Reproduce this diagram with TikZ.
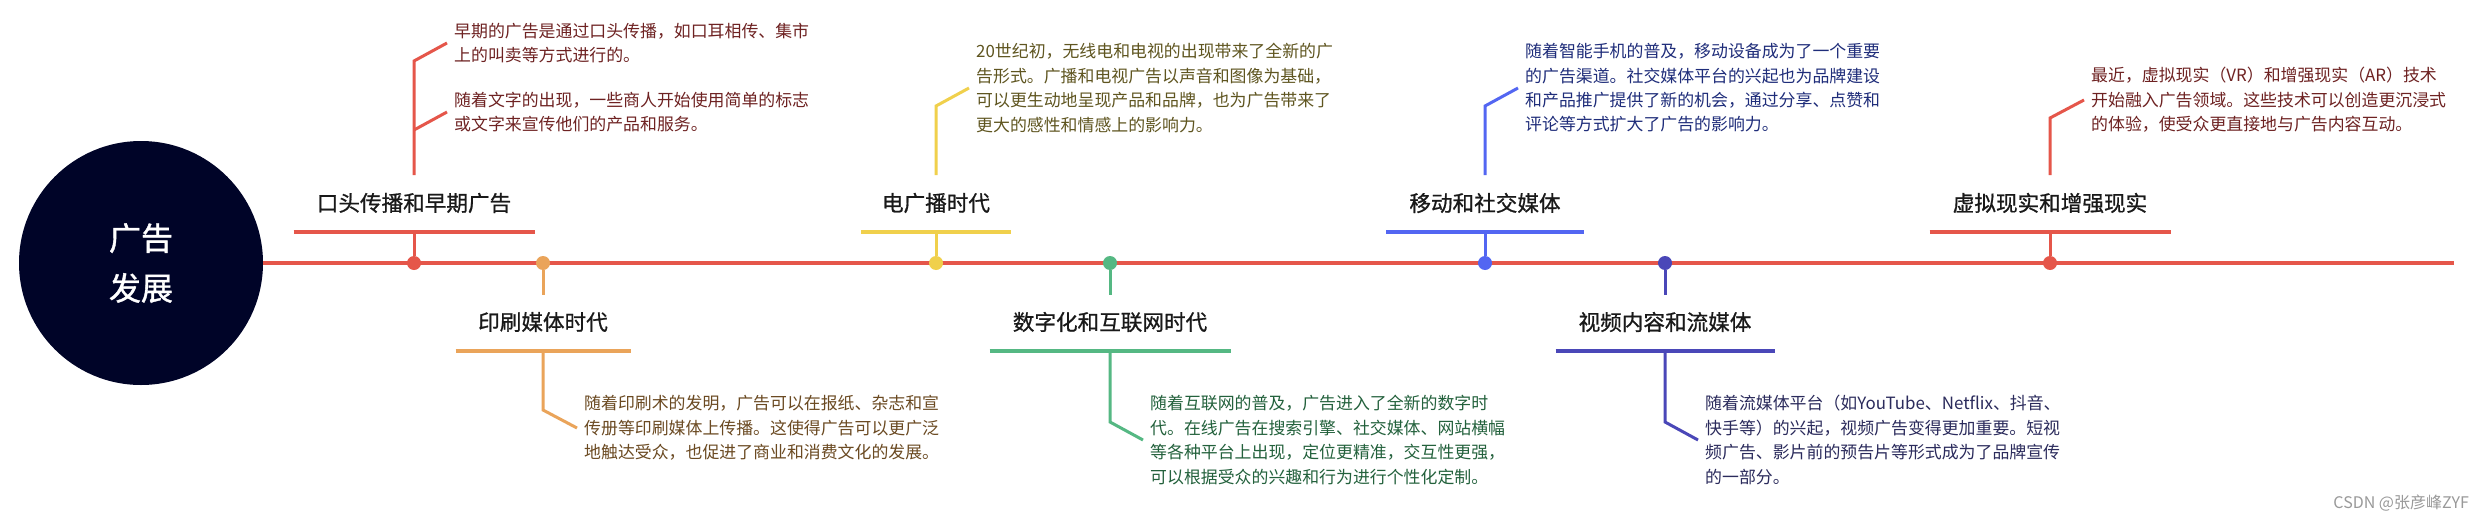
\documentclass[tikz,border=0pt]{standalone}
\usepackage{fontspec}
\setmainfont{Noto Sans CJK SC}
\newfontfamily\bodyfont{Noto Sans CJK SC}
\newfontfamily\ttlfont[FakeBold=0.8]{Noto Sans CJK SC}
\newfontfamily\hubfont[FakeBold=1.2]{Noto Sans CJK SC}
\definecolor{cRed}{HTML}{E5564A}
\definecolor{cOrange}{HTML}{EAA45A}
\definecolor{cYellow}{HTML}{F0D04C}
\definecolor{cGreen}{HTML}{55B883}
\definecolor{cBlue}{HTML}{5366F2}
\definecolor{cIndigo}{HTML}{4A47B8}
\definecolor{tRed}{HTML}{6E2222}
\definecolor{tOrange}{HTML}{6B4A22}
\definecolor{tYellow}{HTML}{5F5520}
\definecolor{tGreen}{HTML}{23613C}
\definecolor{tBlue}{HTML}{1F2D7A}
\definecolor{tIndigo}{HTML}{2B2B5C}
\definecolor{hub}{HTML}{000428}
\tikzset{
  dotnode/.style={circle, fill=#1, inner sep=0pt, minimum size=14pt},
  ttl/.style={font=\ttlfont\fontsize{21.6}{26}\selectfont, inner sep=0pt, text=black!90},
  para/.style={font=\bodyfont\fontsize{16.9}{24.4}\selectfont, align=left, anchor=west, inner sep=0pt, text=#1},
  conn/.style={draw=#1, line width=3pt},
  bar/.style={draw=#1, line width=3.5pt},
}
\begin{document}
\begin{tikzpicture}[x=1pt,y=-1pt]
\useasboundingbox[fill=white] (0,0) rectangle (2486,522);

% hub and timeline
\node[circle, fill=hub, minimum size=244pt, inner sep=0pt, align=center, text=white,
      font=\hubfont\fontsize{32}{50}\selectfont] (hub) at (141,263) {广告\\发展};
\coordinate (tend) at (2454,263);
\draw[bar=cRed] (hub.east) -- (tend);

% ---------- M1 (above) ----------
\node[dotnode=cRed] (d1) at (414,263) {};
\coordinate (u1) at (414,232);
\draw[bar=cRed] ([xshift=-120.5pt]u1) -- ([xshift=120.5pt]u1);
\draw[conn=cRed] (d1) -- (u1);
\node[ttl] (t1) at (414,203) {口头传播和早期广告};
\node[para=tRed] (p1a) at (454,43) {早期的广告是通过口头传播，如口耳相传、集市\\上的叫卖等方式进行的。};
\node[para=tRed] (p1b) at (454,112) {随着文字的出现，一些商人开始使用简单的标志\\或文字来宣传他们的产品和服务。};
\coordinate (s1) at (414,175);
\coordinate (b1a) at (414,61);
\coordinate (b1b) at (414,130);
\draw[conn=cRed] (s1) -- (b1a) -- ([xshift=-7pt]p1a.west);
\draw[conn=cRed] (b1b) -- ([xshift=-7pt]p1b.west);

% ---------- M2 (below) ----------
\node[dotnode=cOrange] (d2) at (543,263) {};
\coordinate (s2) at (543,295);
\draw[conn=cOrange] (d2) -- (s2);
\node[ttl] (t2) at (543,322) {印刷媒体时代};
\coordinate (u2) at (543,351);
\draw[bar=cOrange] ([xshift=-87.5pt]u2) -- ([xshift=87.5pt]u2);
\node[para=tOrange] (p2) at (584,428) {随着印刷术的发明，广告可以在报纸、杂志和宣\\传册等印刷媒体上传播。这使得广告可以更广泛\\地触达受众，也促进了商业和消费文化的发展。};
\coordinate (b2) at (543,410);
\draw[conn=cOrange] (u2) -- (b2) -- ([xshift=-7pt]p2.west);

% ---------- M3 (above) ----------
\node[dotnode=cYellow] (d3) at (936,263) {};
\coordinate (u3) at (936,232);
\draw[bar=cYellow] ([xshift=-75pt]u3) -- ([xshift=75pt]u3);
\draw[conn=cYellow] (d3) -- (u3);
\node[ttl] (t3) at (936,203) {电广播时代};
\node[para=tYellow] (p3) at (976,88) {20世纪初，无线电和电视的出现带来了全新的广\\告形式。广播和电视广告以声音和图像为基础，\\可以更生动地呈现产品和品牌，也为广告带来了\\更大的感性和情感上的影响力。};
\coordinate (s3) at (936,175);
\coordinate (b3) at (936,106);
\draw[conn=cYellow] (s3) -- (b3) -- ([xshift=-7pt]p3.west);

% ---------- M4 (below) ----------
\node[dotnode=cGreen] (d4) at (1110,263) {};
\coordinate (s4) at (1110,295);
\draw[conn=cGreen] (d4) -- (s4);
\node[ttl] (t4) at (1110,322) {数字化和互联网时代};
\coordinate (u4) at (1110,351);
\draw[bar=cGreen] ([xshift=-120.5pt]u4) -- ([xshift=120.5pt]u4);
\node[para=tGreen] (p4) at (1150,440) {随着互联网的普及，广告进入了全新的数字时\\代。在线广告在搜索引擎、社交媒体、网站横幅\\等各种平台上出现，定位更精准，交互性更强，\\可以根据受众的兴趣和行为进行个性化定制。};
\coordinate (b4) at (1110,422);
\draw[conn=cGreen] (u4) -- (b4) -- ([xshift=-7pt]p4.west);

% ---------- M5 (above) ----------
\node[dotnode=cBlue] (d5) at (1485,263) {};
\coordinate (u5) at (1485,232);
\draw[bar=cBlue] ([xshift=-99pt]u5) -- ([xshift=99pt]u5);
\draw[conn=cBlue] (d5) -- (u5);
\node[ttl] (t5) at (1485,203) {移动和社交媒体};
\node[para=tBlue] (p5) at (1525,88) {随着智能手机的普及，移动设备成为了一个重要\\的广告渠道。社交媒体平台的兴起也为品牌建设\\和产品推广提供了新的机会，通过分享、点赞和\\评论等方式扩大了广告的影响力。};
\coordinate (s5) at (1485,175);
\coordinate (b5) at (1485,106);
\draw[conn=cBlue] (s5) -- (b5) -- ([xshift=-7pt]p5.west);

% ---------- M6 (below) ----------
\node[dotnode=cIndigo] (d6) at (1665,263) {};
\coordinate (s6) at (1665,295);
\draw[conn=cIndigo] (d6) -- (s6);
\node[ttl] (t6) at (1665,322) {视频内容和流媒体};
\coordinate (u6) at (1665,351);
\draw[bar=cIndigo] ([xshift=-109.5pt]u6) -- ([xshift=109.5pt]u6);
\node[para=tIndigo] (p6) at (1705,440) {随着流媒体平台（如YouTube、Netflix、抖音、\\快手等）的兴起，视频广告变得更加重要。短视\\频广告、影片前的预告片等形式成为了品牌宣传\\的一部分。};
\coordinate (b6) at (1665,422);
\draw[conn=cIndigo] (u6) -- (b6) -- ([xshift=-7pt]p6.west);

% ---------- M7 (above) ----------
\node[dotnode=cRed] (d7) at (2050,263) {};
\coordinate (u7) at (2050,232);
\draw[bar=cRed] ([xshift=-120.5pt]u7) -- ([xshift=120.5pt]u7);
\draw[conn=cRed] (d7) -- (u7);
\node[ttl] (t7) at (2050,203) {虚拟现实和增强现实};
\node[para=tRed] (p7) at (2091,100) {最近，虚拟现实（VR）和增强现实（AR）技术\\开始融入广告领域。这些技术可以创造更沉浸式\\的体验，使受众更直接地与广告内容互动。};
\coordinate (s7) at (2050,175);
\coordinate (b7) at (2050,118);
\draw[conn=cRed] (s7) -- (b7) -- ([xshift=-7pt]p7.west);

% watermark
\node[anchor=east, inner sep=0pt, text=black!40, font=\bodyfont\fontsize{16}{18}\selectfont] (wm) at (2469,503) {CSDN @张彦峰ZYF};
\end{tikzpicture}
\end{document}
